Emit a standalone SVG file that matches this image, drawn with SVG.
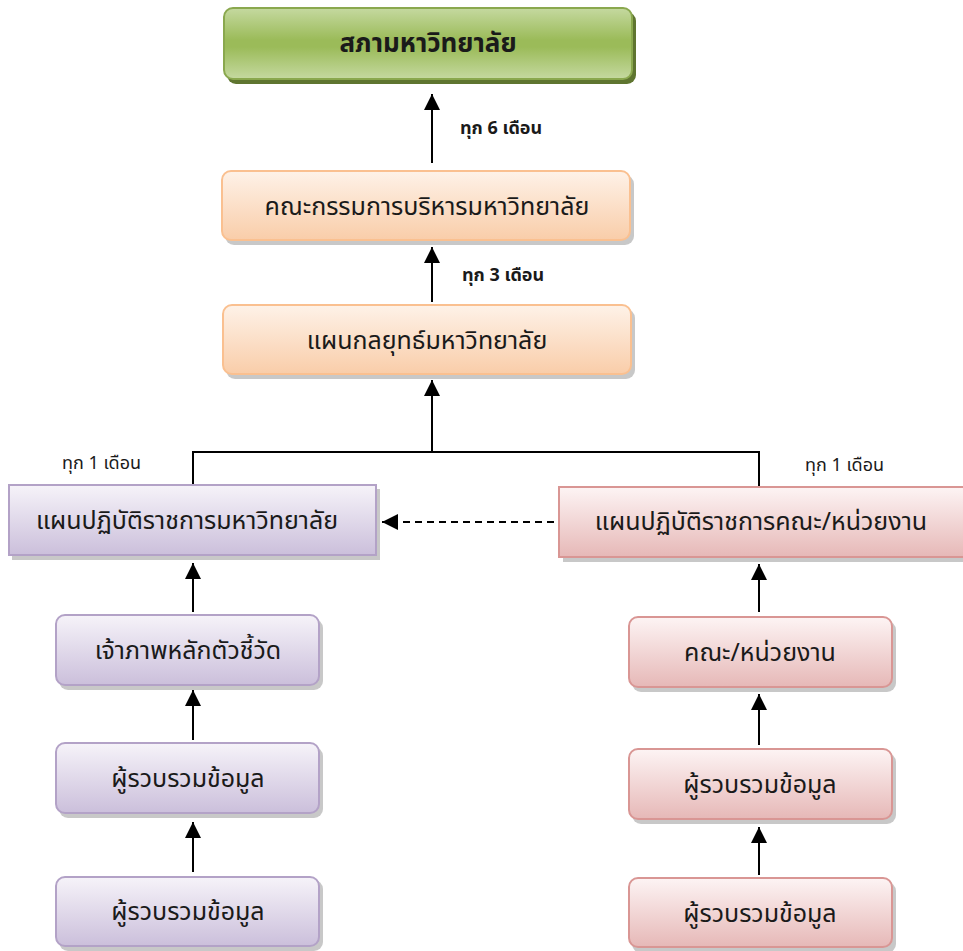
<svg xmlns="http://www.w3.org/2000/svg" width="963" height="951" viewBox="0 0 963 951">
<defs>
<linearGradient id="gGreen" x1="0" y1="0" x2="0" y2="1">
<stop offset="0" stop-color="#c5d9a0"/><stop offset="0.45" stop-color="#9bbb59"/><stop offset="0.55" stop-color="#9bbb59"/><stop offset="1" stop-color="#c5d9a0"/>
</linearGradient>
<linearGradient id="gOrange" x1="0" y1="0" x2="0" y2="1">
<stop offset="0" stop-color="#fef2e8"/><stop offset="1" stop-color="#f9cda9"/>
</linearGradient>
<linearGradient id="gPurple" x1="0" y1="0" x2="0" y2="1">
<stop offset="0" stop-color="#f6f3f9"/><stop offset="1" stop-color="#cbbfdb"/>
</linearGradient>
<linearGradient id="gRed" x1="0" y1="0" x2="0" y2="1">
<stop offset="0" stop-color="#fdf4f4"/><stop offset="1" stop-color="#e6b8b7"/>
</linearGradient>
<marker id="ah" viewBox="0 0 10 10" refX="10" refY="5" markerWidth="16" markerHeight="16" markerUnits="userSpaceOnUse" orient="auto">
<path d="M0,0 L10,5 L0,10 z" fill="#000"/>
</marker>
<style>
.t{font-family:"Noto Sans Thai","Noto Sans","DejaVu Sans",sans-serif;font-size:25px;fill:#1a1a1a;text-anchor:middle;dominant-baseline:central}
.tb{font-family:"Noto Sans Thai","Noto Sans","DejaVu Sans",sans-serif;font-size:26px;font-weight:bold;fill:#1a1a1a;text-anchor:middle;dominant-baseline:central}
.lb{font-family:"Noto Sans Thai","Noto Sans","DejaVu Sans",sans-serif;font-size:18px;font-weight:bold;fill:#1a1a1a;dominant-baseline:central}
.ln{font-family:"Noto Sans Thai","Noto Sans","DejaVu Sans",sans-serif;font-size:18px;fill:#1a1a1a;dominant-baseline:central}
.sh{fill:#9a9a9a;opacity:0.55}
.sg{fill:#5f7530}
.c{stroke:#000;stroke-width:2;fill:none}
.d{stroke:#000;stroke-width:2;fill:none;stroke-dasharray:7,5}
</style>
</defs>

<g id="connectors">
<line class="c" x1="432" y1="163" x2="432" y2="94" marker-end="url(#ah)"/>
<line class="c" x1="432" y1="302" x2="432" y2="247" marker-end="url(#ah)"/>
<line class="c" x1="432" y1="452" x2="432" y2="380" marker-end="url(#ah)"/>
<polyline class="c" points="193,484 193,452 759,452 759,486"/>
<line class="d" x1="554" y1="522" x2="382" y2="522" marker-end="url(#ah)"/>
<line class="c" x1="193" y1="612" x2="193" y2="563" marker-end="url(#ah)"/>
<line class="c" x1="193" y1="740" x2="193" y2="690" marker-end="url(#ah)"/>
<line class="c" x1="193" y1="872" x2="193" y2="822" marker-end="url(#ah)"/>
<line class="c" x1="759" y1="612" x2="759" y2="564" marker-end="url(#ah)"/>
<line class="c" x1="759" y1="745" x2="759" y2="694" marker-end="url(#ah)"/>
<line class="c" x1="759" y1="875" x2="759" y2="827" marker-end="url(#ah)"/>
</g>

<g id="n-council">
<rect class="sg" x="227" y="12" width="409" height="72" rx="9"/>
<rect x="224" y="8" width="408" height="71" rx="9" fill="url(#gGreen)" stroke="#8aa84e" stroke-width="2"/>
<text class="tb" x="428" y="44">สภามหาวิทยาลัย</text>
</g>

<g id="lbl-6">
<text class="lb" x="460" y="128">ทุก 6 เดือน</text>
</g>

<g id="n-exec">
<rect class="sh" x="225" y="175" width="409" height="70" rx="9"/>
<rect x="222" y="171" width="408" height="69" rx="9" fill="url(#gOrange)" stroke="#fac090" stroke-width="2"/>
<text class="t" x="427" y="207">คณะกรรมการบริหารมหาวิทยาลัย</text>
</g>

<g id="lbl-3">
<text class="lb" x="462" y="275">ทุก 3 เดือน</text>
</g>

<g id="n-strategy">
<rect class="sh" x="226" y="309" width="409" height="70" rx="9"/>
<rect x="223" y="305" width="408" height="69" rx="9" fill="url(#gOrange)" stroke="#fac090" stroke-width="2"/>
<text class="t" x="427" y="341">แผนกลยุทธ์มหาวิทยาลัย</text>
</g>

<g id="lbl-1-left">
<text class="ln" x="62" y="463">ทุก 1 เดือน</text>
</g>
<g id="lbl-1-right">
<text class="ln" x="805" y="465">ทุก 1 เดือน</text>
</g>

<g id="n-uniplan">
<rect class="sh" x="12" y="489" width="368" height="71"/>
<rect x="9" y="485" width="367" height="70" fill="url(#gPurple)" stroke="#b3a2c7" stroke-width="2"/>
<text class="t" x="187" y="521">แผนปฏิบัติราชการมหาวิทยาลัย</text>
</g>

<g id="n-facplan">
<rect class="sh" x="563" y="491" width="402" height="71"/>
<rect x="559" y="487" width="406" height="70" fill="url(#gRed)" stroke="#d99694" stroke-width="2"/>
<text class="t" x="761" y="522">แผนปฏิบัติราชการคณะ/หน่วยงาน</text>
</g>

<g id="n-host">
<rect class="sh" x="59" y="619" width="264" height="71" rx="9"/>
<rect x="56" y="615" width="263" height="70" rx="9" fill="url(#gPurple)" stroke="#b3a2c7" stroke-width="2"/>
<text class="t" x="188" y="651">เจ้าภาพหลักตัวชี้วัด</text>
</g>

<g id="n-collect-l1">
<rect class="sh" x="59" y="747" width="264" height="71" rx="9"/>
<rect x="56" y="743" width="263" height="70" rx="9" fill="url(#gPurple)" stroke="#b3a2c7" stroke-width="2"/>
<text class="t" x="188" y="779">ผู้รวบรวมข้อมูล</text>
</g>

<g id="n-collect-l2">
<rect class="sh" x="59" y="880" width="264" height="71" rx="9"/>
<rect x="56" y="877" width="263" height="69" rx="9" fill="url(#gPurple)" stroke="#b3a2c7" stroke-width="2"/>
<text class="t" x="188" y="912">ผู้รวบรวมข้อมูล</text>
</g>

<g id="n-faculty">
<rect class="sh" x="632" y="621" width="264" height="71" rx="9"/>
<rect x="629" y="617" width="263" height="70" rx="9" fill="url(#gRed)" stroke="#d99694" stroke-width="2"/>
<text class="t" x="760" y="653">คณะ/หน่วยงาน</text>
</g>

<g id="n-collect-r1">
<rect class="sh" x="632" y="753" width="264" height="71" rx="9"/>
<rect x="629" y="749" width="263" height="70" rx="9" fill="url(#gRed)" stroke="#d99694" stroke-width="2"/>
<text class="t" x="760" y="785">ผู้รวบรวมข้อมูล</text>
</g>

<g id="n-collect-r2">
<rect class="sh" x="632" y="882" width="264" height="71" rx="9"/>
<rect x="629" y="878" width="263" height="69" rx="9" fill="url(#gRed)" stroke="#d99694" stroke-width="2"/>
<text class="t" x="760" y="914">ผู้รวบรวมข้อมูล</text>
</g>
</svg>
